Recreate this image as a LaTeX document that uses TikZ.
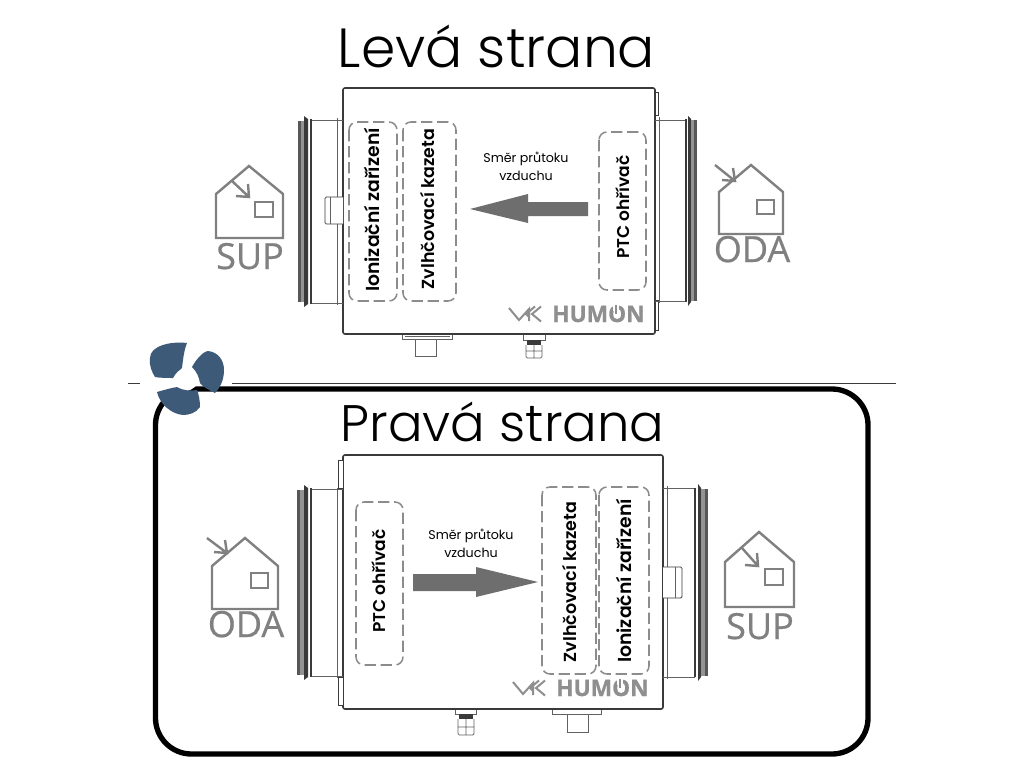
\documentclass[tikz,border=0pt]{standalone}
\usepackage{fontspec}
\setmainfont{Poppins}
\newfontfamily\titlefont{Poppins Light}
\newfontfamily\semifont{Poppins SemiBold}
\newfontfamily\housefont{Open Sans}[FakeBold=0.6]
\newfontfamily\logofont{Open Sans}[FakeBold=1]
\definecolor{hcol}{HTML}{808080}
\definecolor{acol}{HTML}{6E6E6E}
\definecolor{fancol}{HTML}{3D5A78}
\definecolor{boxcol}{HTML}{3A3A3A}
\definecolor{dcol}{HTML}{8C8C8C}
\definecolor{logocol}{HTML}{8F8F8F}
\tikzset{
  px/.style={x=0.75pt,y=-0.75pt},
  housebox/.style={draw=boxcol,line width=1.2pt,rounded corners=1.5pt},
  thinpart/.style={draw=boxcol!80,line width=0.6pt},
  strip/.style={draw=boxcol,fill=white,line width=0.6pt},
  cassette/.style={draw=dcol,line width=1.15pt,rounded corners=6pt,dash pattern=on 8.5pt off 3.5pt},
  flowarrow/.style={fill=acol,draw=none},
  houseline/.style={draw=hcol,line width=1.8pt,line join=miter},
  ttlA/.style={font=\titlefont\fontsize{41.4}{41.4}\selectfont,text=black,inner sep=0pt,anchor=base},
  ttlB/.style={font=\titlefont\fontsize{38.5}{38.5}\selectfont,text=black,inner sep=0pt,anchor=base},
  ionlabel/.style={font=\semifont\fontsize{14.1}{14.1}\selectfont,text=black,rotate=90,inner sep=0pt},
  zvllabel/.style={font=\semifont\fontsize{13.1}{13.1}\selectfont,text=black,rotate=90,inner sep=0pt},
  ptclabel/.style={font=\semifont\fontsize{12.8}{12.8}\selectfont,text=black,rotate=90,inner sep=0pt},
  flowlabel/.style={font=\fontsize{9.5}{9.5}\selectfont,text=black,inner sep=0pt,anchor=base},
  houselabel/.style={font=\housefont\fontsize{27}{27}\selectfont,text=hcol,inner sep=0pt,anchor=base},
  logotext/.style={font=\logofont\bfseries\fontsize{17}{17}\selectfont,text=logocol,inner sep=0pt,anchor=base west},
  logomark/.style={draw=logocol,line width=1.5pt,line join=miter},
  fanblade/.style={fill=fancol,draw=none},
}
\begin{document}
\begin{tikzpicture}[px]
\useasboundingbox (0,0) rectangle (1024,768);
\fill[white] (0,0) rectangle (1024,768);

\node[ttlA] (title1) at (496.5,67) {Levá strana};

% ---------- upper unit
\draw[housebox] (343,88) rectangle (655,334);
\draw[strip] (655,92) rectangle (658,115) (655,300) rectangle (658,330);
% left duct
\draw[thinpart] (312,120) -- (343,120) (312,303) -- (343,303) (337,118) -- (337,305);
\fill[boxcol!85] (298,121) rectangle (301,302);
\fill[boxcol!55] (301,121) rectangle (304,302);
\fill[boxcol] (304,116) -- (308,119) -- (308,304) -- (304,307) -- cycle;
\fill[boxcol] (310,119) rectangle (312,304);
% right duct
\draw[thinpart] (655,120) -- (685,120) (655,301) -- (685,301) (659,117) -- (659,303);
\fill[boxcol] (685,119) rectangle (687,302);
\fill[boxcol] (688,116) -- (691,119) -- (691,302) -- (688,306) -- cycle;
\fill[boxcol!55] (691,120) rectangle (694,301);
\fill[boxcol!85] (694,120) rectangle (697,301);
% clip
\draw[strip,rounded corners=1pt] (343,197) -- (325,197) -- (325,224) -- (343,224);
\draw[thinpart] (330,197) -- (330,224);
% bottom stub
\draw[thinpart] (402,335) -- (402,339) -- (452,339) -- (452,335) (415,339) -- (415,356) -- (436,356) -- (436,339) (405,336) -- (450,336);
% gland
\draw[thinpart] (523,335) -- (523,340) -- (545,340) -- (545,335);
\fill[boxcol] (527,340) rectangle (541,345);
\draw[thinpart,rounded corners=1pt] (526,345) -- (526,358) -- (542,358) -- (542,345) (534,345) -- (534,358) (526,351) -- (542,351);
% cassettes
\draw[cassette] (349,122) rectangle (397,301);
\draw[cassette] (403,122) rectangle (456,301);
\draw[cassette] (599,132) rectangle (646,290);
\node[ionlabel] (ion1) at (372,210) {Ionizační zařízení};
\node[zvllabel] (zvl1) at (427,209) {Zvlhčovací kazeta};
\node[ptclabel] (ptc1) at (623,207) {PTC ohřívač};
% flow arrow
\fill[flowarrow] (470,209) -- (528,194) -- (528,202) -- (588,202) -- (588,216) -- (528,216) -- (528,223) -- cycle;
\node[flowlabel] (fl1a) at (526,162) {Směr průtoku};
\node[flowlabel] (fl1b) at (526,180) {vzduchu};
% logo
\node[logotext] (logo1) at (552,322) {HUMON};
\fill[white] (612.5,304) rectangle (618.5,311);
\draw[logocol,line width=1.5pt] (615.5,304.5) -- (615.5,314);
\draw[logomark] (509,308) -- (519,320) -- (529,309) -- (529,321) (541,306.5) -- (532,314) -- (541,321.5) (535,306.5) -- (526,314) -- (529,317);

% SUP house upper
\draw[houseline] (216,238) -- (216,194) -- (249,166) -- (283,194) -- (283,238) -- cycle;
\draw[houseline] (255,202) rectangle (273,217);
\draw[houseline] (232,181) -- (249,197) (236,196) -- (249,197) -- (248,184);
\node[houselabel] (sup1) at (250,269) {SUP};
% ODA house upper
\draw[houseline] (719,234) -- (719,192) -- (751,165) -- (783,192) -- (783,234) -- cycle;
\draw[houseline] (757,200) rectangle (774,214);
\draw[houseline] (715,165) -- (735,181) (722,180) -- (735,181) -- (733,168);
\node[houselabel] (oda1) at (752,262) {ODA};

% ---------- separator and frame
\draw[boxcol,line width=0.7pt] (128,383) -- (140,383) (232,383) -- (896,383);
\draw[black,line width=4pt,rounded corners=27pt] (155.5,389) rectangle (868,754);
\node[ttlB] (title2) at (502.5,441) {Pravá strana};

% ---------- lower unit
\draw[housebox] (343,455) rectangle (663,709);
\draw[strip] (338,460) rectangle (343,488) (338,677) rectangle (343,705);
% left duct
\draw[thinpart] (312,489) -- (343,489) (312,676) -- (343,676) (337,488) -- (337,678);
\fill[boxcol!85] (297,490) rectangle (300,675);
\fill[boxcol!55] (300,490) rectangle (304,675);
\fill[boxcol] (304,485) -- (308,488) -- (308,677) -- (304,680) -- cycle;
\fill[boxcol] (310,488) rectangle (312,677);
% right duct
\draw[thinpart] (663,488) -- (695,488) (663,677) -- (695,677) (667,486) -- (667,679);
\fill[boxcol] (694,488) rectangle (696,677);
\fill[boxcol] (698,484) -- (701,488) -- (701,677) -- (698,681) -- cycle;
\fill[boxcol!55] (701,489) rectangle (705,676);
\fill[boxcol!85] (705,489) rectangle (708,676);
% clip
\draw[strip,rounded corners=1pt] (663,567) -- (682,567) -- (682,598) -- (663,598);
\draw[thinpart] (675,567) -- (675,598);
% gland
\draw[thinpart] (455,710) -- (455,714) -- (476,714) -- (476,710);
\fill[boxcol] (459,714) rectangle (473,719);
\draw[thinpart,rounded corners=1pt] (458,719) -- (458,735) -- (474,735) -- (474,719) (466,719) -- (466,735) (458,727) -- (474,727);
% stub
\draw[thinpart] (552,710) -- (552,714) -- (601,714) -- (601,710) (567,714) -- (567,732) -- (588,732) -- (588,714);
% cassettes
\draw[cassette] (356,502) rectangle (403,665);
\draw[cassette] (542,487) rectangle (596,674);
\draw[cassette] (599,487) rectangle (649,674);
\node[ptclabel] (ptc2) at (379,581) {PTC ohřívač};
\node[zvllabel] (zvl2) at (569,582) {Zvlhčovací kazeta};
\node[ionlabel] (ion2) at (624,581) {Ionizační zařízení};
% flow arrow
\fill[flowarrow] (538,582) -- (476,567) -- (476,574) -- (413,574) -- (413,591) -- (476,591) -- (476,597) -- cycle;
\node[flowlabel] (fl2a) at (471,539) {Směr průtoku};
\node[flowlabel] (fl2b) at (471,557) {vzduchu};
% logo
\node[logotext] (logo2) at (556,696) {HUMON};
\fill[white] (616.5,678) rectangle (622.5,685);
\draw[logocol,line width=1.5pt] (619.5,678.5) -- (619.5,688);
\draw[logomark] (513,682) -- (523,694) -- (533,683) -- (533,695) (545,680.5) -- (536,688) -- (545,695.5) (539,680.5) -- (530,688) -- (533,691);

% ODA house lower
\draw[houseline] (212,609) -- (212,566) -- (245,538) -- (278,566) -- (278,609) -- cycle;
\draw[houseline] (251,573) rectangle (268,588);
\draw[houseline] (207,538) -- (227,553) (214,552) -- (227,553) -- (225,540);
\node[houselabel] (oda2) at (246,637) {ODA};
% SUP house lower
\draw[houseline] (725,607) -- (725,562) -- (759,532) -- (794,562) -- (794,607) -- cycle;
\draw[houseline] (765,569) rectangle (783,585);
\draw[houseline] (742,548) -- (758,566) (745,565) -- (758,566) -- (757,553);
\node[houselabel] (sup2) at (760,639) {SUP};

% ---------- fan
\fill[white] (185,377) circle (14);
\fill[fanblade] (187,343) .. controls (170,341) and (150,346) .. (150,358) .. controls (149,366) and (152,372) .. (155,377)
  .. controls (160,378) and (168,378) .. (173,378) .. controls (176,372) and (180,370) .. (182,368) .. controls (183,360) and (184,350) .. (187,343) -- cycle;
\fill[fanblade] (192,367) .. controls (196,360) and (202,352) .. (208,351) .. controls (218,352) and (224,360) .. (224,370)
  .. controls (224,380) and (220,388) .. (215,393) .. controls (209,390) and (203,387) .. (200,383) .. controls (199,377) and (197,372) .. (192,367) -- cycle;
\fill[fanblade] (157,392) .. controls (164,390) and (171,388) .. (177,387) .. controls (184,391) and (191,391) .. (197,390)
  .. controls (199,395) and (200,401) .. (200,407) .. controls (196,413) and (189,415) .. (183,415) .. controls (172,414) and (160,405) .. (157,392) -- cycle;
\end{tikzpicture}
\end{document}
